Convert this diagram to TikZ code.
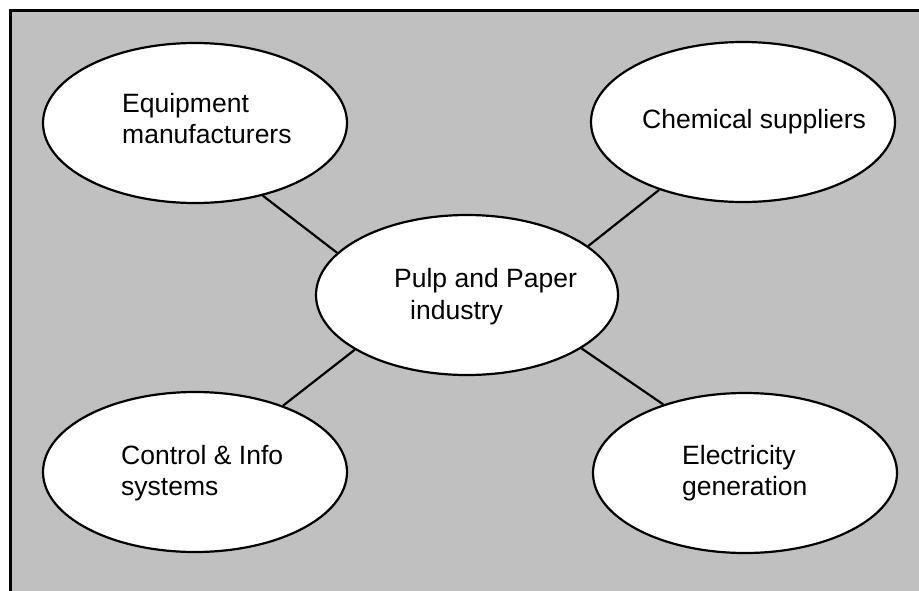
\documentclass[tikz,border=0pt]{standalone}
\usepackage{fontspec}
\setmainfont{Liberation Sans}
\usetikzlibrary{shapes.geometric}
\definecolor{panelgray}{HTML}{C0C0C0}
\tikzset{
  bubble/.style={ellipse, draw=black, line width=2.2pt, fill=white,
    minimum width=304pt, minimum height=160pt, inner sep=0pt},
  label/.style={anchor=base west, inner sep=0pt, align=left,
    font=\fontsize{26.5pt}{31pt}\selectfont},
  link/.style={draw=black, line width=2.2pt},
  frame/.style={draw=black, line width=3pt, fill=panelgray}
}
\begin{document}
\begin{tikzpicture}[x=1pt, y=-1pt]
\useasboundingbox (0,0) rectangle (919,590);
\clip (0,0) rectangle (919,590);
\fill[white] (0,0) rectangle (919,590);
\draw[frame] (10,10.5) rectangle (940,620);

\node[bubble] (equip) at (195,123) {};
\node[bubble] (chem)  at (743,122) {};
\node[bubble, minimum width=302pt] (pulp)  at (467,295) {};
\node[bubble] (ctrl)  at (195,472) {};
\node[bubble] (elec)  at (745,473) {};

\draw[link] (equip.-47) -- (pulp.162);
\draw[link] (chem.-141) -- (pulp.22);
\draw[link] (ctrl.37) -- (pulp.206);
\draw[link] (elec.140) -- (pulp.-25);

\node[label] (t1) at (122,143) {Equipment\\manufacturers};
\node[label] (t2) at (642,128) {Chemical suppliers};
\node[label] (t3) at (394,287) {Pulp and Paper};
\node[label] (t3b) at (410,319) {industry};
\node[label] (t4) at (121,495) {Control \& Info\\systems};
\node[label] (t5) at (682,495) {Electricity\\generation};
\end{tikzpicture}
\end{document}
